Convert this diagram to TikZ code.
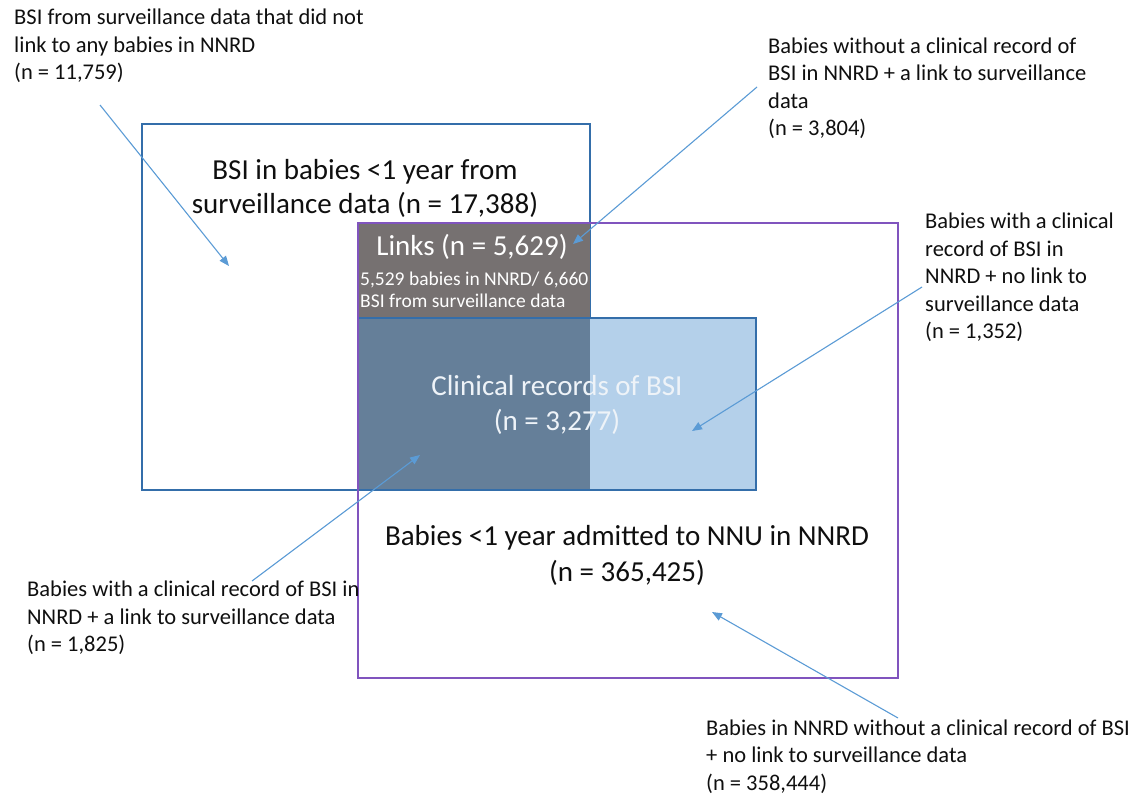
\documentclass[tikz,border=0pt]{standalone}
\usepackage{fontspec}
\setmainfont{Carlito}
\usetikzlibrary{arrows.meta}
\definecolor{survblue}{RGB}{52,110,170}
\definecolor{nnrdpurple}{RGB}{128,84,190}
\definecolor{linkgray}{RGB}{118,113,113}
\definecolor{darkblue}{RGB}{101,127,153}
\definecolor{lightblue}{RGB}{180,208,234}
\definecolor{arrowblue}{RGB}{91,155,213}
\definecolor{txt}{RGB}{15,15,15}
\definecolor{clinictext}{RGB}{238,243,248}
\begin{document}
\begin{tikzpicture}[x=1pt,y=-1pt,
  ann/.style={align=left, inner sep=0pt, anchor=north west, font=\fontsize{22.5}{27.5}\selectfont, text=txt},
  big/.style={align=center, inner sep=0pt, anchor=north, font=\fontsize{29}{34}\selectfont, text=txt},
  region/.style={anchor=north west, inner sep=0pt, outer sep=0pt},
  pointer/.style={draw=arrowblue, line width=1.1pt, -{Triangle[length=10pt,width=8pt]}}
]
\useasboundingbox (0,0) rectangle (1147,795);
% regions
\node[region, draw=survblue, line width=1.3pt, minimum width=448pt, minimum height=366pt] (surv) at (142,124) {};
\node[region, fill=linkgray, minimum width=232pt, minimum height=95pt] (links) at (358,223) {};
\node[region, fill=darkblue, minimum width=232pt, minimum height=172pt] (both) at (358,318) {};
\node[region, fill=lightblue, minimum width=166pt, minimum height=172pt] (clinonly) at (590,318) {};
\node[region, draw=survblue, line width=1.3pt, minimum width=398pt, minimum height=172pt] (clin) at (358,318) {};
\node[region, draw=nnrdpurple, line width=1.4pt, minimum width=540pt, minimum height=455pt] (nnrd) at (358,223) {};
% labels inside regions
\node[big] (survlabel) at (365,159.5) {BSI in babies <1 year from\\surveillance data (n = 17,388)};
\node[anchor=base, inner sep=0pt, font=\fontsize{29}{34}\selectfont, text=white] (linkslabel) at (472,255) {Links (n = 5,629)};
\node[align=left, anchor=north west, inner sep=0pt, font=\fontsize{19.5}{22}\selectfont, text=white] (linkssub) at (360,271.5) {5,529 babies in NNRD/ 6,660\\BSI from surveillance data};
\node[big, text=clinictext, font=\fontsize{29}{35}\selectfont] (clinlabel) at (557,375.5) {Clinical records of BSI\\(n = 3,277)};
\node[big, font=\fontsize{29}{36}\selectfont] (nnrdlabel) at (627,525.5) {Babies <1 year admitted to NNU in NNRD\\(n = 365,425)};
% annotations
\node[ann] (t1) at (14,9) {BSI from surveillance data that did not\\link to any babies in NNRD\\(n = 11,759)};
\node[ann] (t2) at (768,37.5) {Babies without a clinical record of\\BSI in NNRD + a link to surveillance\\data\\(n = 3,804)};
\node[ann] (t3) at (925,213) {Babies with a clinical\\record of BSI in\\NNRD + no link to\\surveillance data\\(n = 1,352)};
\node[ann] (t4) at (27,581) {Babies with a clinical record of BSI in\\NNRD + a link to surveillance data\\(n = 1,825)};
\node[ann] (t5) at (706,719.5) {Babies in NNRD without a clinical record of BSI\\+ no link to surveillance data\\(n = 358,444)};
% pointer ends
\coordinate (p1s) at (100,105);
\coordinate (p1e) at (229,266);
\coordinate (p2s) at (757,87);
\coordinate (p2e) at (573,244);
\coordinate (p3s) at (922,287);
\coordinate (p3e) at (692,431);
\coordinate (p4s) at (252,581);
\coordinate (p4e) at (420,455);
\coordinate (p5s) at (898,718);
\coordinate (p5e) at (712,612);
\draw[pointer] (p1s) -- (p1e);
\draw[pointer] (p2s) -- (p2e);
\draw[pointer] (p3s) -- (p3e);
\draw[pointer] (p4s) -- (p4e);
\draw[pointer] (p5s) -- (p5e);
\end{tikzpicture}
\end{document}
